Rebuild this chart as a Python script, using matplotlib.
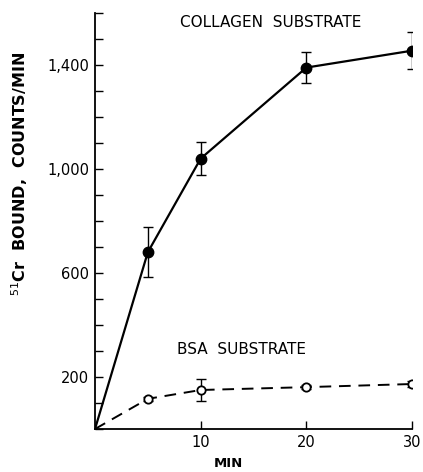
import matplotlib
matplotlib.use('Agg')
import matplotlib.pyplot as plt

# data
minutes = [0, 5, 10, 20, 30]
collagen = [0, 680, 1040, 1390, 1455]
collagen_err = [0, 95, 62, 60, 72]
bsa = [0, 116, 150, 161, 173]
bsa_err = [0, 8, 42, 7, 10]

y_ticks = [200, 600, 1000, 1400]
y_ticklabels = ['200', '600', '1,000', '1,400']
x_ticks = [10, 20, 30]

plt.rcParams['font.family'] = ['DejaVu Sans']

fig = plt.figure(figsize=(4.23, 4.72), dpi=100)
ax = fig.add_axes([0.2246, 0.0911, 0.7494, 0.8814])

ax.errorbar(minutes[1:], collagen[1:], yerr=collagen_err[1:], fmt='none',
            ecolor='black', elinewidth=1.0, capsize=3.5, capthick=1.0)
ax.plot(minutes, collagen, color='black', lw=1.6)
ax.plot(minutes[1:], collagen[1:], 'o', color='black', ms=7.5)

ax.errorbar(minutes[1:], bsa[1:], yerr=bsa_err[1:], fmt='none',
            ecolor='black', elinewidth=1.0, capsize=3.5, capthick=1.0)
ax.plot(minutes, bsa, color='black', lw=1.4, ls=(0, (6, 4)))
ax.plot(minutes[1:], bsa[1:], 'o', mfc='white', mec='black', mew=1.3, ms=6)

ax.set_xlim(0, 30)
ax.set_ylim(0, 1600)
ax.set_xticks(x_ticks)
ax.set_xticklabels([str(t) for t in x_ticks], fontsize=10.5)
ax.set_yticks(range(0, 1601, 100), minor=True)
ax.set_yticks(y_ticks)
ax.set_yticklabels(y_ticklabels, fontsize=10.5)
ax.tick_params(axis='both', which='both', direction='in', length=6, width=1.0, pad=4)
ax.tick_params(axis='x', pad=4)
for s in ['top', 'right']:
    ax.spines[s].set_visible(False)
for s in ['left', 'bottom']:
    ax.spines[s].set_linewidth(1.3)

ax.set_xlabel('MIN', fontsize=9.5, fontweight='bold')
ax.xaxis.set_label_coords(0.42, -0.068)
ax.set_ylabel(r'$^{51}$Cr  BOUND,  COUNTS/MIN', fontsize=11.5, fontweight='bold')
ax.yaxis.set_label_coords(-0.205, 0.613)

ax.text(0.268, 0.976, 'COLLAGEN  SUBSTRATE', transform=ax.transAxes,
        fontsize=11, va='center')
ax.text(0.259, 0.19, 'BSA  SUBSTRATE', transform=ax.transAxes,
        fontsize=11, va='center')

fig.savefig('out.png', dpi=100)
